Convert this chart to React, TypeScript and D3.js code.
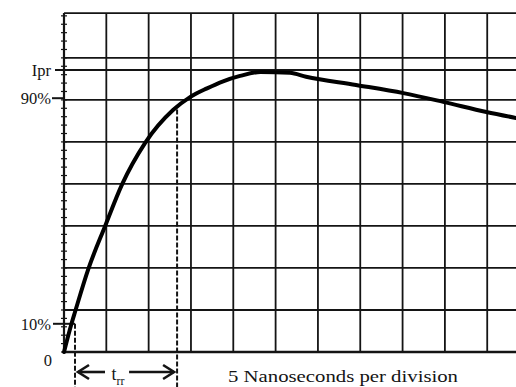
import React from "react";
import * as d3 from "d3";

// time in nanoseconds, current in percent of Ipr
const curveTime = [0, 0.91, 1.3, 2.87, 4.85, 6.82, 9.57, 12.88, 14.89, 16.9, 18.8, 20.8, 23.2, 26.7, 28.6, 34.5, 40.1, 44.8, 49.9, 53.4];
const curvePct = [0, 10.3, 14.2, 29.4, 44.6, 59.2, 74.1, 85.8, 90.4, 93.5, 96.0, 97.9, 99.3, 99.0, 97.6, 94.7, 91.8, 88.7, 85.1, 83.0];

const nsPerDivision = 5;
const divisionsX = [1, 2, 3, 4, 5, 6, 7, 8, 9, 10];
const divisionsY = [1, 2, 3, 4, 5, 6, 7];
const pctPerDivisionY = 14.9;
const levelLabels = [
  { label: "Ipr", pct: 100 },
  { label: "90%", pct: 90 },
  { label: "10%", pct: 10 },
  { label: "0", pct: 0 },
];
const trrStart = 1.3;
const trrEnd = 13.36;
const xCaption = "5 Nanoseconds per division";

const W = 516;
const H = 387;

export default function App() {
  const x = d3.scaleLinear().domain([0, 53.4]).range([64, 516]);
  const y = d3.scaleLinear().domain([0, 100]).range([352, 70]);
  const yTopPct = 120.2;
  const yTop = y(yTopPct);
  const line = d3
    .line<number>()
    .x((_, i) => x(curveTime[i]))
    .y((d) => y(d))
    .curve(d3.curveMonotoneX);

  const minorTicks = d3.range(0, yTopPct, pctPerDivisionY / 5);
  const ink = "#141414";
  const font = "'Liberation Serif', 'DejaVu Serif', serif";
  const ay = 372;
  const xa = x(trrStart);
  const xb = x(trrEnd);

  return (
    <svg width={W} height={H} style={{ position: "absolute", left: 0, top: 0, background: "#fff" }}>
      {divisionsX.map((d) => (
        <line key={"v" + d} x1={x(d * nsPerDivision)} x2={x(d * nsPerDivision)} y1={yTop} y2={y(0)} stroke={ink} strokeWidth={1.8} />
      ))}
      {divisionsY.map((d) => (
        <line key={"h" + d} x1={x(0)} x2={W} y1={y(d * pctPerDivisionY)} y2={y(d * pctPerDivisionY)} stroke={ink} strokeWidth={1.8} />
      ))}
      <line x1={x(0)} x2={W} y1={yTop} y2={yTop} stroke={ink} strokeWidth={1.8} />
      <line x1={55} x2={W} y1={y(100)} y2={y(100)} stroke={ink} strokeWidth={2} />
      <line x1={52} x2={x(0)} y1={y(90)} y2={y(90)} stroke={ink} strokeWidth={2} />
      <line x1={53} x2={x(trrStart)} y1={y(10)} y2={y(10)} stroke={ink} strokeWidth={2} />
      {minorTicks.map((t, i) => (
        <line key={"m" + i} x1={x(0) - 3} x2={x(0) + 3} y1={y(t)} y2={y(t)} stroke={ink} strokeWidth={1.2} />
      ))}
      <line x1={x(0)} x2={x(0)} y1={yTop} y2={y(0)} stroke={ink} strokeWidth={2.2} />
      <line x1={x(0)} x2={W} y1={y(0)} y2={y(0)} stroke={ink} strokeWidth={2.4} />
      <line x1={xa} x2={xa} y1={y(10)} y2={H} stroke={ink} strokeWidth={2} strokeDasharray="5,2" />
      <line x1={xb} x2={xb} y1={y(86)} y2={H} stroke={ink} strokeWidth={2} strokeDasharray="5,2" />
      <path d={line(curvePct) || ""} fill="none" stroke="#000" strokeWidth={4} strokeLinecap="round" strokeLinejoin="round" />
      {levelLabels.map((l) => (
        <text
          key={l.label}
          x={l.label === "0" ? 52 : 51}
          y={l.label === "0" ? y(0) + 14 : y(l.pct)}
          dy={l.label === "0" ? 0 : "0.35em"}
          textAnchor="end"
          fontFamily={font}
          fontSize={16.5}
          fill={ink}
        >
          {l.label}
        </text>
      ))}
      <g stroke={ink} strokeWidth={2.6} fill="none">
        <line x1={xa + 3} x2={xa + 30} y1={ay} y2={ay} />
        <polyline points={`${xa + 14},${ay - 7} ${xa + 3},${ay} ${xa + 14},${ay + 7}`} />
        <line x1={xb - 48} x2={xb - 3} y1={ay} y2={ay} />
        <polyline points={`${xb - 14},${ay - 7} ${xb - 3},${ay} ${xb - 14},${ay + 7}`} />
      </g>
      <text x={(xa + xb) / 2 - 8} y={ay + 8} fontFamily={font} fontSize={18} fill={ink} textAnchor="middle">
        t<tspan fontSize={12} dy={5}>rr</tspan>
      </text>
      <text x={228} y={382} fontFamily={font} fontSize={16} fill={ink} textLength={230} lengthAdjust="spacingAndGlyphs">
        {xCaption}
      </text>
    </svg>
  );
}
